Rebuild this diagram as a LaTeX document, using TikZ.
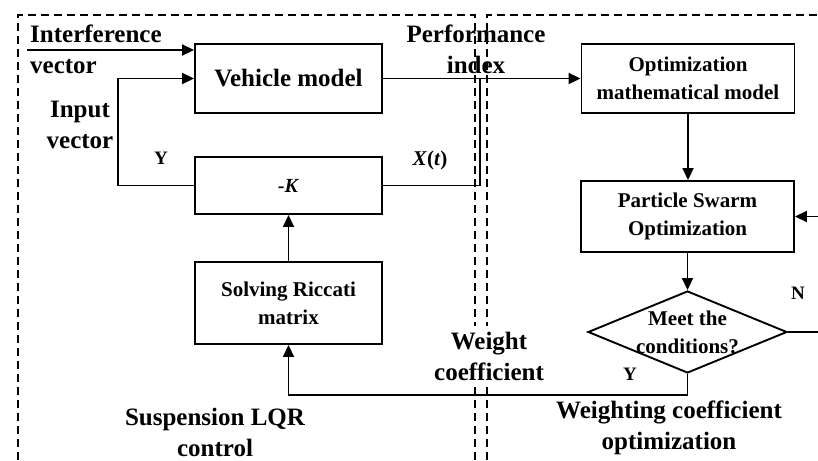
\documentclass[tikz,border=0pt]{standalone}
\usepackage{fontspec}
\setmainfont{Liberation Serif}
\usetikzlibrary{arrows.meta,shapes.geometric}

\begin{document}
\begin{tikzpicture}[x=1pt,y=-1pt,
  box/.style={draw, line width=1.9pt, inner sep=0pt, align=center,
              font=\bfseries\fontsize{21}{28}\selectfont},
  lbl/.style={inner sep=0pt, align=center, font=\bfseries\fontsize{25}{31}\selectfont},
  tag/.style={inner sep=0pt, font=\bfseries\fontsize{19}{22}\selectfont},
  wire/.style={line width=1.8pt},
  arr/.style={wire, -{Triangle[length=12pt,width=11pt]}},
  frame/.style={line width=1.3pt, dash pattern=on 8pt off 5pt}]

\useasboundingbox (0,0) rectangle (818,460);

% dashed group frames
\draw[frame] (18,460) -- (18,15) -- (475,15) -- (475,460);
\draw[frame] (487,460) -- (487,15) -- (818,15);

% label that masks the frames where it sits
\node[lbl, fill=white, inner xsep=2pt, inner ysep=6pt] (lw) at (489,356) {Weight\\coefficient};

% LQR side
\node[box, minimum width=187pt, minimum height=69pt,
      font=\bfseries\fontsize{25}{30}\selectfont] (vm) at (288.5,78.5) {Vehicle model};
\node[box, minimum width=187pt, minimum height=57pt,
      font=\bfseries\fontsize{20}{24}\selectfont] (k) at (288.5,185.5) {-\textit{K}};
\node[box, minimum width=187pt, minimum height=82pt] (ric) at (288.5,303)
      {Solving Riccati\\matrix};

% optimisation side
\node[box, minimum width=213pt, minimum height=69pt] (om) at (688,78.5)
      {Optimization\\mathematical model};
\node[box, minimum width=213pt, minimum height=71pt] (pso) at (687.5,216.5)
      {Particle Swarm\\Optimization};
\node[diamond, draw, line width=1.9pt, inner sep=0pt,
      minimum width=199pt, minimum height=82pt] (cond) at (687.5,332) {};
\node[inner sep=0pt, align=center, font=\bfseries\fontsize{21}{28}\selectfont]
      (condtxt) at (cond.center) {Meet the\\conditions?};

% free ends of connectors
\coordinate (inA) at (27,50);
\coordinate (fbx) at (118,0);
\coordinate (tap) at (480,78.5);
\coordinate (nOut) at (818,332);
\coordinate (nIn) at (818,216.5);

% connectors
\draw[arr] (inA) -- (inA -| vm.west);
\draw[arr] (k.west) -- (k.west -| fbx) |- (vm.west);
\draw[arr] (vm.east) -- (om.west);
\draw[wire] (k.east) -| (tap);
\draw[arr] (om.south) -- (om.south |- pso.north);
\draw[arr] (pso.south) -- (pso.south |- cond.north);
\draw[arr] (cond.south) -- ++(0,21) -| (ric.south);
\draw[arr] (ric.north) -- (k.south);
\draw[wire] (cond.east) -- (nOut);
\draw[arr] (nIn) -- (pso.east);

% labels
\node[lbl, align=left, anchor=west] (lint) at (30,49) {Interference\\vector};
\node[lbl] (lperf) at (476,49) {Performance\\index};
\node[lbl] (linp) at (80,125) {Input\\vector};
\node[tag] (ly1) at (161,158) {Y};
\node[tag, font=\bfseries\fontsize{21}{24}\selectfont] (lx) at (430,160) {\textit{X}(\textit{t})};
\node[lbl] (lsus) at (215,432) {Suspension LQR\\control};
\node[lbl] (lwco) at (669,428) {Weighting coefficient\\optimization};
\node[tag] (ln) at (798,293) {N};
\node[tag] (ly2) at (630,374) {Y};
\end{tikzpicture}
\end{document}
